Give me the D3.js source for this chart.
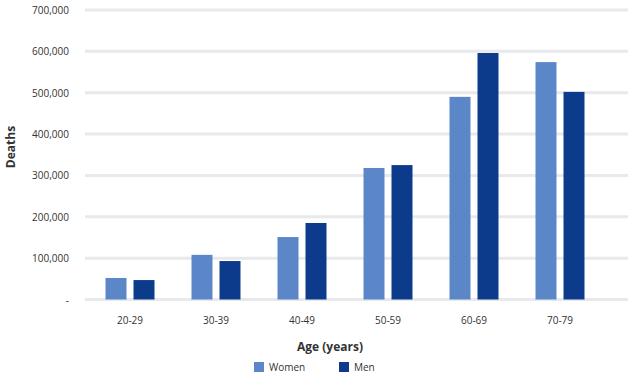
<!DOCTYPE html>
<html lang="en">
<head>
<meta charset="utf-8">
<title>Deaths by age</title>
<script src="https://cdn.jsdelivr.net/npm/d3@7"></script>
<style>
  body { margin: 0; background: #fff; font-family: "Open Sans", "Noto Sans", sans-serif; }
  svg text { fill: #333; }
</style>
</head>
<body>
<script>
// data
var ages = ["20-29", "30-39", "40-49", "50-59", "60-69", "70-79"];
var women = [52000, 108000, 151000, 318000, 490000, 574000];
var men = [47000, 93000, 185000, 325000, 596000, 502000];
var seriesNames = ["Women", "Men"];
var yTicks = [0, 100000, 200000, 300000, 400000, 500000, 600000, 700000];

var colors = ["#5b87c9", "#0d3b8b"];

var w = 640, h = 378;
var svg = d3.select("body").append("svg").attr("width", w).attr("height", h);

var x = d3.scaleBand().domain(ages).range([87, 603]);
var inner = d3.scaleBand().domain(seriesNames).range([-24.5, 24.5]).paddingInner(0.25);
var y = d3.scaleLinear().domain([0, 700000]).range([299.5, 10]);

// gridlines
svg.selectAll("line.grid")
   .data(yTicks)
   .enter()
   .append("line")
   .attr("class", "grid")
   .attr("x1", 85)
   .attr("x2", 628)
   .attr("y1", function(d) { return y(d); })
   .attr("y2", function(d) { return y(d); })
   .attr("stroke", "#e8e9ec")
   .attr("stroke-width", 3);

// y axis labels
var fmt = d3.format(",");
svg.selectAll("text.ytick")
   .data(yTicks)
   .enter()
   .append("text")
   .attr("class", "ytick")
   .attr("x", 69)
   .attr("y", function(d) { return y(d) + 4; })
   .attr("text-anchor", "end")
   .attr("font-size", "10px")
   .text(function(d) { return d === 0 ? "-" : fmt(d); });

// bars
var rows = ages.map(function(a, i) {
  return { age: a, values: [{ s: "Women", v: women[i] }, { s: "Men", v: men[i] }] };
});

var groups = svg.selectAll("g.grp")
   .data(rows)
   .enter()
   .append("g")
   .attr("transform", function(d) { return "translate(" + (x(d.age) + x.bandwidth() / 2) + ",0)"; });

groups.selectAll("rect")
   .data(function(d) { return d.values; })
   .enter()
   .append("rect")
   .attr("x", function(d) { return inner(d.s); })
   .attr("width", inner.bandwidth())
   .attr("y", function(d) { return y(d.v); })
   .attr("height", function(d) { return y(0) - y(d.v); })
   .attr("fill", function(d, i) { return colors[i]; });

// x axis labels
svg.selectAll("text.xtick")
   .data(ages)
   .enter()
   .append("text")
   .attr("class", "xtick")
   .attr("x", function(d) { return x(d) + x.bandwidth() / 2; })
   .attr("y", 324)
   .attr("text-anchor", "middle")
   .attr("font-size", "10px")
   .text(function(d) { return d; });

// axis titles
svg.append("text")
   .attr("x", 330)
   .attr("y", 351)
   .attr("text-anchor", "middle")
   .attr("font-size", "12px")
   .attr("font-weight", "bold")
   .text("Age (years)");

svg.append("text")
   .attr("transform", "translate(15,147) rotate(-90)")
   .attr("text-anchor", "middle")
   .attr("font-size", "12px")
   .attr("font-weight", "bold")
   .text("Deaths");

// legend
var legendX = [254, 339];
var lg = svg.selectAll("g.legend")
   .data(seriesNames)
   .enter()
   .append("g")
   .attr("transform", function(d, i) { return "translate(" + legendX[i] + ",362)"; });

lg.append("rect")
   .attr("width", 10)
   .attr("height", 10)
   .attr("fill", function(d, i) { return colors[i]; });

lg.append("text")
   .attr("x", 15)
   .attr("y", 9)
   .attr("font-size", "10px")
   .text(function(d) { return d; });
</script>
</body>
</html>
